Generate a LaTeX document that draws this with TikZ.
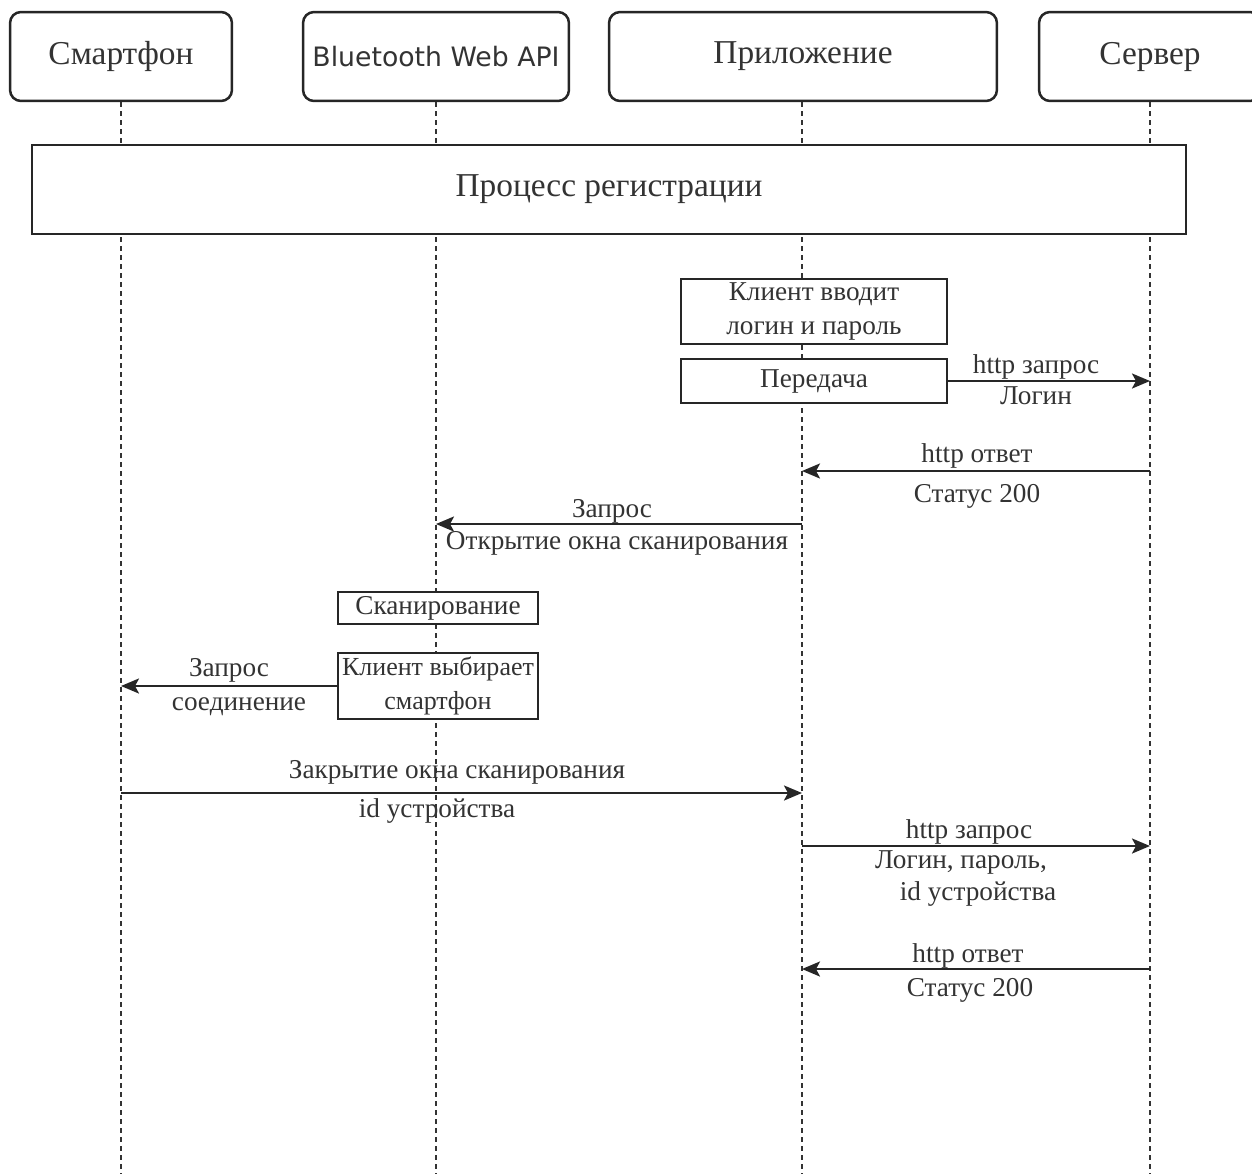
\documentclass[tikz,border=0pt]{standalone}
\usepackage{fontspec}
\setmainfont{Liberation Serif}
\newfontfamily\btfont{DejaVu Sans}
\usetikzlibrary{arrows.meta}
\begin{document}
\begin{tikzpicture}[x=0.02cm,y=-0.02cm,
  ink/.style={draw=black!85, line width=0.05cm},
  head/.style={ink, rounded corners=0.22cm, fill=white, minimum height=1.78cm, inner sep=0pt,
    font=\fontsize{19}{21}\selectfont, text=black!80},
  box/.style={ink, fill=white, inner sep=0pt, align=center,
    font=\fontsize{15.5}{19.5}\selectfont, text=black!80},
  life/.style={draw=black!80, line width=0.05cm, dash pattern=on 0.1cm off 0.08cm},
  msg/.style={ink, -{Stealth[length=0.36cm,width=0.3cm,inset=0.08cm]}},
  lbl/.style={font=\fontsize{15.5}{19.5}\selectfont, text=black!80, inner sep=0pt, align=center}]
\clip (0,0) rectangle (1252,1174);
\useasboundingbox (0,0) rectangle (1252,1174);
\fill[white] (0,0) rectangle (1252,1174);

% headers
\node[head, minimum width=4.44cm] (h1) at (121,56.5) {Смартфон};
\node[head, minimum width=5.32cm, font=\btfont\fontsize{15.2}{17}\selectfont] (h2) at (436,56.5) {Bluetooth Web API};
\node[head, minimum width=7.76cm] (h3) at (803,56.5) {Приложение};
\node[head, minimum width=4.44cm] (h4) at (1150,56.5) {Сервер};

% lifeline ends
\coordinate (e1) at (121,1174);
\coordinate (e2) at (436,1174);
\coordinate (e3) at (802,1174);
\coordinate (e4) at (1150,1174);
\draw[life] (h1.south) -- (e1);
\draw[life] (h2.south) -- (e2);
\draw[life] (h3.south -| e3) -- (e3);
\draw[life] (h4.south) -- (e4);

% process box
\node[box, minimum width=23.08cm, minimum height=1.78cm, font=\fontsize{19}{21}\selectfont] (proc) at (609,189.5) {Процесс регистрации};

% app boxes
\node[box, minimum width=5.32cm, minimum height=1.3cm] (login) at (814,311.5) {Клиент вводит\\логин и пароль};
\node[box, minimum width=5.32cm, minimum height=0.88cm] (pd) at (814,381) {Передача};

% BT boxes
\node[box, minimum width=4.0cm, minimum height=0.64cm] (scan) at (438,608) {Сканирование};
\node[box, minimum width=4.0cm, minimum height=1.32cm, font=\fontsize{14.8}{19.5}\selectfont] (pick) at (438,686) {Клиент выбирает\\смартфон};

% lifeline points
\coordinate (s2) at (1150,471);
\coordinate (a2) at (802,471);
\coordinate (a3) at (802,524);
\coordinate (b3) at (436,524);
\coordinate (m5) at (121,793);
\coordinate (a5) at (802,793);
\coordinate (a6) at (802,846);
\coordinate (s6) at (1150,846);
\coordinate (s7) at (1150,969);
\coordinate (a7) at (802,969);

% messages
\draw[msg] (pd.east) -- (pd.east -| e4);
\node[lbl] (l1a) at (1036,367) {http запрос};
\node[lbl] (l1b) at (1036,396) {Логин};

\draw[msg] (s2) -- (a2);
\node[lbl] (l2a) at (977,456) {http ответ};
\node[lbl] (l2b) at (977,496) {Статус 200};

\draw[msg] (a3) -- (b3);
\node[lbl] (l3a) at (612,511) {Запрос};
\node[lbl] (l3b) at (617,543) {Открытие окна сканирования};

\draw[msg] (pick.west) -- (pick.west -| e1);
\node[lbl] (l4a) at (229,670) {Запрос};
\node[lbl] (l4b) at (239,707) {соединение};

\draw[msg] (m5) -- (a5);
\node[lbl] (l5a) at (457,772) {Закрытие окна сканирования};
\node[lbl] (l5b) at (437,811) {id устройства};

\draw[msg] (a6) -- (s6);
\node[lbl] (l6a) at (969,832) {http запрос};
\node[lbl] (l6b) at (961,862) {Логин, пароль,};
\node[lbl] (l6c) at (978,894) {id устройства};

\draw[msg] (s7) -- (a7);
\node[lbl] (l7a) at (968,956) {http ответ};
\node[lbl] (l7b) at (970,990) {Статус 200};
\end{tikzpicture}
\end{document}
